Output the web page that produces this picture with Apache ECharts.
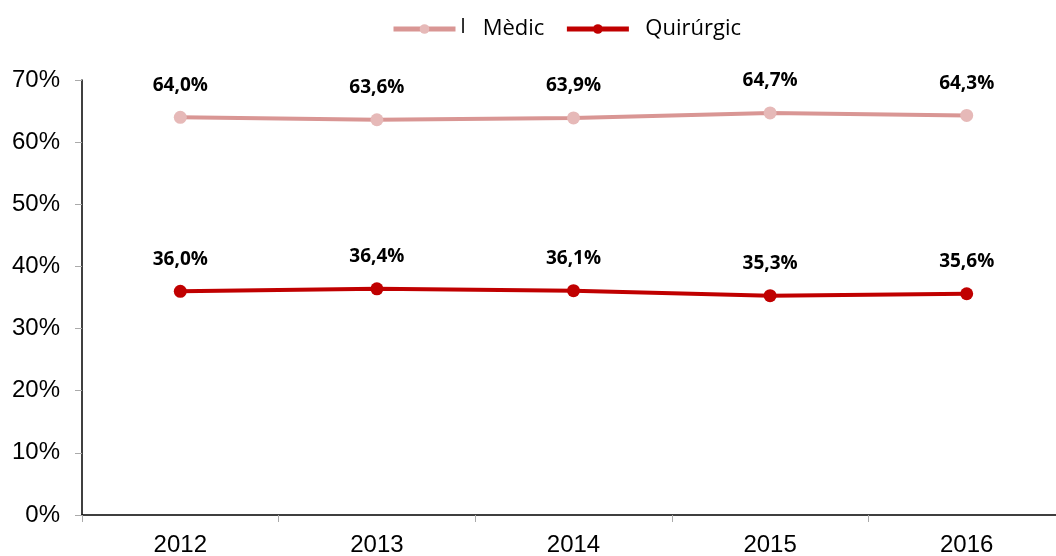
<!DOCTYPE html>
<html>
<head>
<meta charset="utf-8">
<script src="https://cdn.jsdelivr.net/npm/echarts@6/dist/echarts.min.js"></script>
<style>
  html, body { margin: 0; padding: 0; background: #fff; }
  #chart { width: 1056px; height: 556px; }
</style>
</head>
<body>
<div id="chart"></div>
<script>
// dades
const years = ['2012', '2013', '2014', '2015', '2016']
const medic = [64.0, 63.6, 63.9, 64.7, 64.3]
const quirurgic = [36.0, 36.4, 36.1, 35.3, 35.6]

const chart = echarts.init(document.getElementById('chart'))

const fmt = (v) => v.toFixed(1).replace('.', ',') + '%'

const labelCfg = {
  show: true, position: 'top', distance: 16,
  fontSize: 19, fontWeight: 'bold', color: '#000',
  fontFamily: 'Open Sans, sans-serif',
  formatter: (p) => fmt(p.value)
}

const option = {
  animation: false,
  textStyle: { fontFamily: 'Liberation Sans, Arial, sans-serif' },
  legend: {
    top: 12,
    left: 386,
    itemWidth: 62,
    itemHeight: 12,
    itemGap: 20,
    textStyle: {
      fontSize: 22, color: '#000', fontFamily: 'Open Sans, sans-serif',
      rich: { a: { fontSize: 20, color: '#000', fontFamily: 'Open Sans, sans-serif', padding: [0, 0, 4, 0] } }
    },
    formatter: (name) => name === 'Mèdic' ? '{a|l}   Mèdic' : '  ' + name,
    data: [
      { name: 'Mèdic', lineStyle: { width: 5 } },
      { name: 'Quirúrgic', lineStyle: { width: 5 } }
    ]
  },
  grid: { left: 82, width: 983, top: 80, bottom: 41, outerBoundsMode: 'none' },
  xAxis: {
    type: 'category',
    data: years,
    axisLine: { lineStyle: { color: '#000', width: 1.5 } },
    axisTick: { show: true, length: 7, lineStyle: { color: '#aaa' } },
    axisLabel: { fontSize: 24, color: '#000', margin: 18 }
  },
  yAxis: {
    type: 'value',
    min: 0,
    max: 70,
    interval: 10,
    axisLine: { show: true, lineStyle: { color: '#000', width: 1.5 } },
    axisTick: { show: true, length: 7, lineStyle: { color: '#aaa' } },
    splitLine: { show: false },
    axisLabel: { fontSize: 24, color: '#000', margin: 22, formatter: '{value}%' }
  },
  series: [
    {
      name: 'Mèdic',
      type: 'line',
      data: medic,
      symbol: 'circle',
      symbolSize: 13,
      lineStyle: { color: '#D99694', width: 4 },
      itemStyle: { color: '#E6B9B8' },
      label: labelCfg
    },
    {
      name: 'Quirúrgic',
      type: 'line',
      data: quirurgic,
      symbol: 'circle',
      symbolSize: 13,
      lineStyle: { color: '#C00000', width: 4 },
      itemStyle: { color: '#C00000' },
      label: labelCfg
    }
  ]
}
chart.setOption(option)
</script>
</body>
</html>
